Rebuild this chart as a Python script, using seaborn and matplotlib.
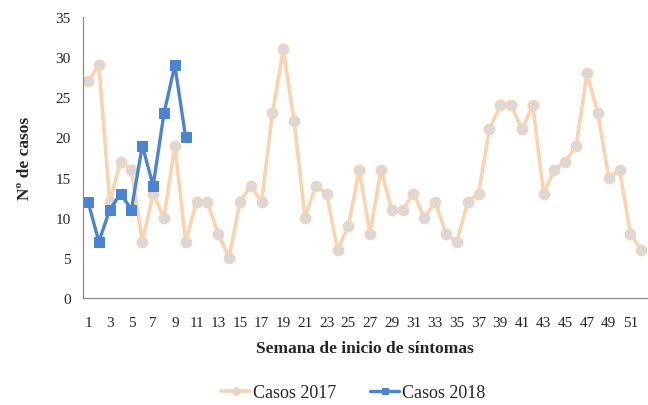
import matplotlib
matplotlib.use("Agg")
import matplotlib.pyplot as plt
import seaborn as sns
import pandas as pd

# Weekly case counts
weeks_2017 = list(range(1, 53))
cases_2017 = [27, 29, 12, 17, 16, 7, 13, 10, 19, 7,
              12, 12, 8, 5, 12, 14, 12, 23, 31, 22,
              10, 14, 13, 6, 9, 16, 8, 16, 11, 11,
              13, 10, 12, 8, 7, 12, 13, 21, 24, 24,
              21, 24, 13, 16, 17, 19, 28, 23, 15, 16,
              8, 6]
weeks_2018 = list(range(1, 11))
cases_2018 = [12, 7, 11, 13, 11, 19, 14, 23, 29, 20]

y_ticks = [0, 5, 10, 15, 20, 25, 30, 35]
x_labels = [str(w) if w % 2 == 1 else "" for w in weeks_2017]

sns.set_style("white")
plt.rcParams["font.family"] = ["Liberation Serif", "DejaVu Serif"]

df17 = pd.DataFrame({"Semana": weeks_2017, "Casos": cases_2017})
df18 = pd.DataFrame({"Semana": weeks_2018, "Casos": cases_2018})

fig = plt.figure(figsize=(6.48, 4.06), dpi=100)
ax = fig.add_axes([0.1275, 0.2635, 0.8705, 0.692])

sns.lineplot(data=df17, x="Semana", y="Casos", ax=ax, color="#FAD3B1",
             linewidth=2.6, marker="o", markersize=7.5,
             markerfacecolor="#D9D9D9", markeredgecolor="#FAD3B1",
             markeredgewidth=1.0, label="Casos 2017")
sns.lineplot(data=df18, x="Semana", y="Casos", ax=ax, color="#4A84D2",
             linewidth=2.4, marker="s", markersize=7,
             markerfacecolor="#4A84D2", markeredgecolor="#4A84D2",
             label="Casos 2018")

ax.set_xlim(0.5, 52.5)
ax.set_ylim(0, 35)
ax.set_yticks(y_ticks)
ax.set_xticks(weeks_2017)
ax.set_xticklabels(x_labels)
ax.set_xticks([w + 0.5 for w in range(0, 53)], minor=True)
ax.tick_params(axis="x", which="major", length=0, labelsize=11, pad=13,
               colors="#262626")
ax.tick_params(axis="x", which="minor", length=5, width=0.8, color="#8C8C8C",
               direction="out")
ax.tick_params(axis="y", which="major", length=5, width=0.8, color="#8C8C8C",
               labelsize=11, labelcolor="#262626", direction="out")

for side in ["top", "right"]:
    ax.spines[side].set_visible(False)
for side in ["left", "bottom"]:
    ax.spines[side].set_color("#8C8C8C")
    ax.spines[side].set_linewidth(0.9)

ax.set_xlabel("Semana de inicio de síntomas", fontsize=12.5, weight="bold",
              labelpad=8)
ax.set_ylabel("Nº de casos", fontsize=12.5, weight="bold", labelpad=16)

handles, labels = ax.get_legend_handles_labels()
ax.get_legend().remove()
fig.legend(handles, labels, loc="lower center", bbox_to_anchor=(0.545, -0.03),
           ncol=2, frameon=False, fontsize=13, handlelength=1.6,
           columnspacing=1.9, handletextpad=0.15, markerscale=0.7)

fig.savefig("out.png", dpi=100)
